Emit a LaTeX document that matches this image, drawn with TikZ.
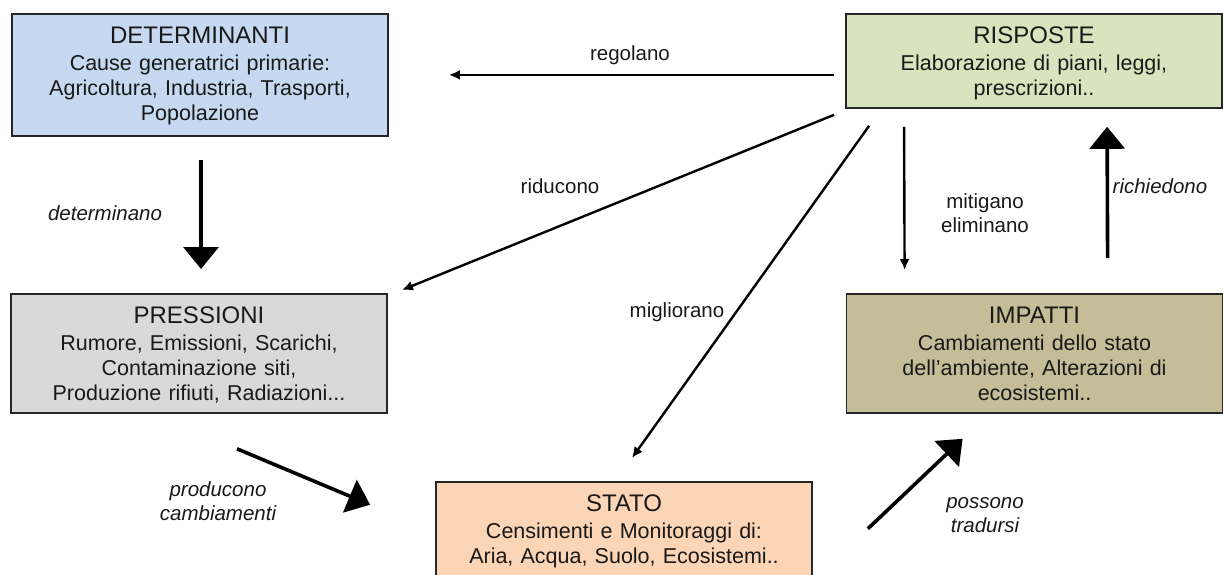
\documentclass[tikz,border=0pt]{standalone}
\usepackage{fontspec}
\setmainfont{Liberation Sans}
\usetikzlibrary{arrows.meta}
\definecolor{blud}{HTML}{C6D9F1}
\definecolor{verder}{HTML}{D7E4BD}
\definecolor{grigiop}{HTML}{D9D9D9}
\definecolor{kakii}{HTML}{C4BD97}
\definecolor{pescas}{HTML}{FBD5B5}

\begin{document}
\begin{tikzpicture}[x=1pt, y=-1pt,
	box/.style={draw=black!85, line width=1.8pt, anchor=north, minimum width=376pt, text width=360pt, align=center, inner ysep=0pt, text height=29.6pt, text=black!90, font=\fontsize{21.5}{25}\selectfont},
	etic/.style={align=center, text=black!90, font=\fontsize{20.5}{24}\selectfont},
	eticc/.style={etic, font=\fontsize{20.5}{24}\selectfont\itshape},
	freccia/.style={line width=2.4pt, -{Latex[length=11pt,width=10pt]}},
	frecciona/.style={line width=3.6pt, -{Triangle[length=22pt,width=35pt]}}]
			\useasboundingbox (0,0) rectangle (1226,574);
			\node[box, fill=blud, text depth=92.4pt] (D) at (200,13) {{\fontsize{24}{25}\selectfont DETERMINANTI}\\[2pt] Cause generatrici primarie:\\ Agricoltura, Industria, Trasporti,\\ Popolazione};
			\node[box, fill=verder, text depth=64.4pt] (R) at (1034,13) {{\fontsize{24}{25}\selectfont RISPOSTE}\\[2pt] Elaborazione di piani, leggi,\\ prescrizioni..};
			\node[box, fill=grigiop, text depth=89.4pt] (P) at (199,293) {{\fontsize{24}{25}\selectfont PRESSIONI}\\[2pt] Rumore, Emissioni, Scarichi,\\ Contaminazione siti,\\ Produzione rifiuti, Radiazioni...};
			\node[box, fill=kakii, text depth=89.4pt] (I) at (1034.5,293) {{\fontsize{24}{25}\selectfont IMPATTI}\\[2pt] Cambiamenti dello stato\\ dell'ambiente, Alterazioni di\\ ecosistemi..};
			\node[box, fill=pescas, text depth=70pt] (S) at (624,481) {{\fontsize{24}{25}\selectfont STATO}\\[2pt] Censimenti e Monitoraggi di:\\ Aria, Acqua, Suolo, Ecosistemi..};
			\node[etic] (rg) at (630,55) {regolano};
			\node[eticc] (dt) at (105,213) {determinano};
			\node[etic] (rd) at (560,186) {riducono};
			\node[etic] (mg) at (677,312) {migliorano};
			\node[etic] (mt) at (985,213) {mitigano\\eliminano};
			\node[eticc] (rc) at (1160,186) {richiedono};
			\node[eticc] (pc) at (218,501) {producono\\cambiamenti};
			\node[eticc] (pt) at (985,515) {possono\\tradursi};
			\draw[freccia, shorten <=11pt, shorten >=60pt] (R.west |- D.east) -- (D.east);
			\draw[frecciona] ([shift={(1,23)}]D.south) -- ([shift={(2,-24)}]P.north);
			\draw[freccia] ([shift={(-11,6)}]R.south west) -- ([shift={(14,-3)}]P.north east);
			\draw[freccia] ([shift={(24,17)}]R.south west) -- ([shift={(8,-23)}]S.north);
			\draw[freccia] ([shift={(59,18)}]R.south west) -- ([shift={(59,-23)}]I.north west);
			\draw[frecciona] ([shift={(262,-35)}]I.north west) -- ([shift={(262,18)}]R.south west);
			\draw[frecciona] ([shift={(38,35)}]P.south) -- ([shift={(-65,-27)}]S.west);
			\draw[frecciona] ([shift={(55,-3)}]S.east) -- ([shift={(117,25)}]I.south west);
		\end{tikzpicture}
\end{document}
